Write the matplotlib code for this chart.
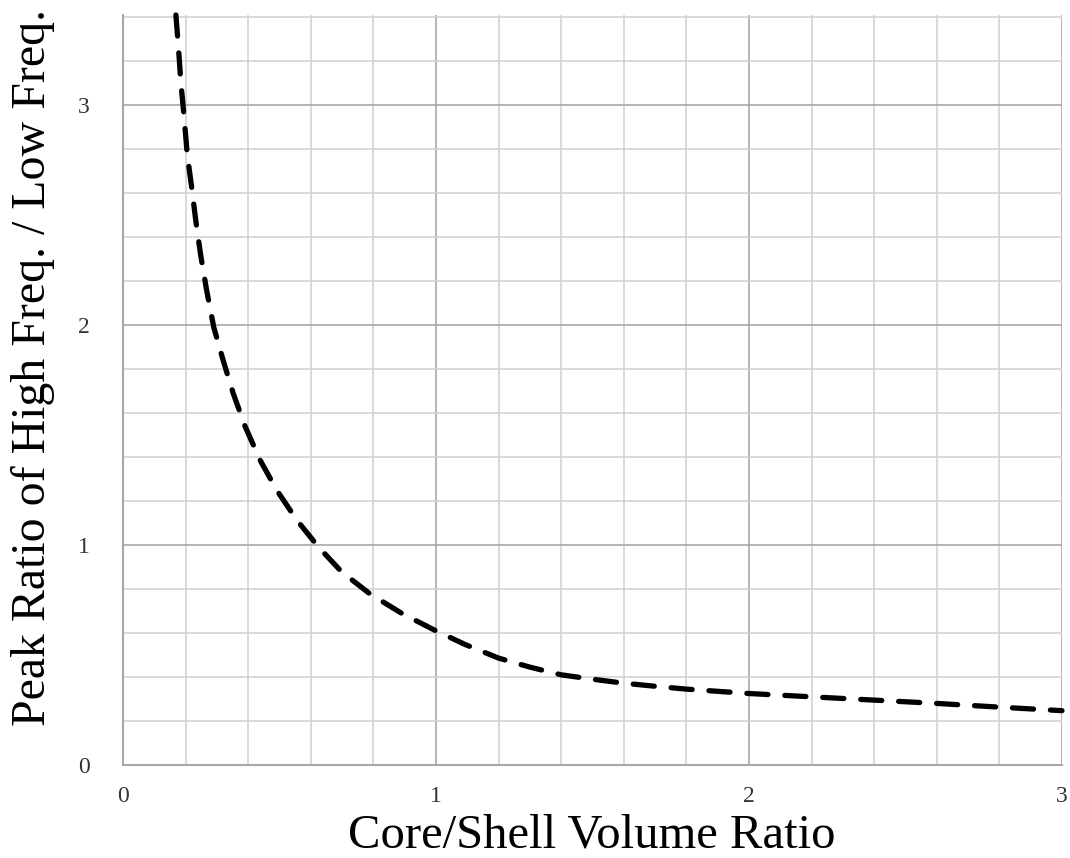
import matplotlib
matplotlib.use("Agg")
import matplotlib.pyplot as plt
import numpy as np

# Data
volume_ratio = [0.169, 0.177, 0.185, 0.195, 0.205, 0.219, 0.233, 0.248, 0.267, 0.29,
                0.32, 0.352, 0.39, 0.438, 0.491, 0.555, 0.624, 0.698, 0.789, 0.89,
                0.997, 1.093, 1.2, 1.3, 1.4, 1.5, 1.6, 1.7, 1.8, 1.9,
                2.0, 2.2, 2.4, 2.6, 2.8, 3.0]
peak_ratio = [3.41, 3.265, 3.10, 2.95, 2.78, 2.63, 2.47, 2.32, 2.16, 1.99,
              1.84, 1.69, 1.54, 1.386, 1.25, 1.114, 0.992, 0.879, 0.778, 0.69,
              0.612, 0.548, 0.486, 0.445, 0.41, 0.39, 0.372, 0.358, 0.345, 0.335,
              0.325, 0.31, 0.295, 0.28, 0.263, 0.247]
x_ticks = [0, 1, 2, 3]
y_ticks = [0, 1, 2, 3]
x_label = "Core/Shell Volume Ratio"
y_label = "Peak Ratio of High Freq. / Low Freq."

serif = ["Liberation Serif", "DejaVu Serif"]

fig = plt.figure(figsize=(10.7, 8.58), dpi=100)
ax = fig.add_axes([123/1070, 93/858, 939/1070, 750/858])

ax.set_xlim(0, 3)
ax.set_ylim(0, 3.41)

# grid
ax.set_xticks(np.arange(0, 3.01, 0.2), minor=True)
ax.set_yticks(np.arange(0, 3.41, 0.2), minor=True)
ax.set_xticks(x_ticks)
ax.set_yticks(y_ticks)
ax.grid(which="minor", color="#cfcfcf", linewidth=1.1)
ax.grid(which="major", color="#a8a8a8", linewidth=1.2)
ax.set_axisbelow(True)
ax.tick_params(which="both", length=0)
ax.tick_params(axis="x", pad=15)
ax.tick_params(axis="y", pad=24)
for lbl in ax.get_xticklabels() + ax.get_yticklabels():
    lbl.set_family(serif)
    lbl.set_fontsize(17)
    lbl.set_color("#333333")

for s in ["top", "right"]:
    ax.spines[s].set_visible(False)
for s in ["left", "bottom"]:
    ax.spines[s].set_color("#a8a8a8")
    ax.spines[s].set_linewidth(1.5)

ax.plot(volume_ratio, peak_ratio, color="black", linewidth=3.8,
        linestyle=(0, (4.0, 3.2)), dash_capstyle="round", clip_on=False)

fig.text(592/1070, 1 - 847/858, x_label, ha="center", va="baseline",
         fontsize=35, family=serif, color="black")
fig.text(33/1070, 1 - 367/858, y_label, ha="center", va="center",
         rotation=90, fontsize=34.5, family=serif, color="black")

fig.savefig("out.png", dpi=100)
